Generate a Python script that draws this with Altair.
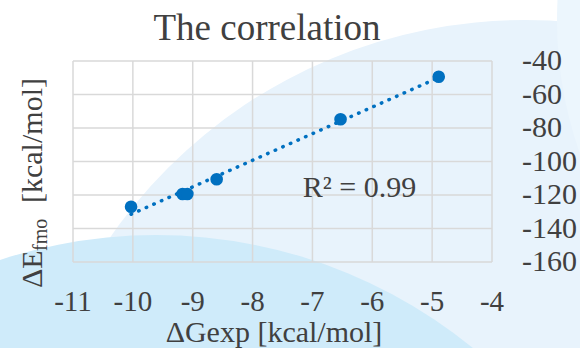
import altair as alt
import pandas as pd

# ---- data ----
x_exp = [-10.03, -9.17, -9.09, -8.60, -6.53, -4.89]
y_fmo = [-127.0, -119.4, -119.4, -110.6, -74.8, -49.4]
x_ticks = [-11, -10, -9, -8, -7, -6, -5, -4]
x_tick_labels = ["-11", "-10", "-9", "-8", "-7", "-6", "-5", "-4"]
y_ticks = [-160, -140, -120, -100, -80, -60, -40]
y_tick_labels = ["-160", "-140", "-120", "-100", "-80", "-60", "-40"]
r2_text = ["R² = 0.99"]
r2_pos_x = [-7.16]
r2_pos_y = [-121.3]

FONT = "'Liberation Serif', 'Times New Roman', serif"
TXT = "#404040"
BLUE = "#0070C0"
GRID = "#d9d9d9"

W, H = 419, 201

df = pd.DataFrame({"x": x_exp, "y": y_fmo})
gx = pd.DataFrame({"x": x_ticks, "t": x_tick_labels})
gy = pd.DataFrame({"y": y_ticks, "t": y_tick_labels})
r2 = pd.DataFrame({"x": r2_pos_x, "y": r2_pos_y, "t": r2_text})

xscale = alt.Scale(domain=[-11, -4], nice=False, zero=False)
yscale = alt.Scale(domain=[-160, -40], nice=False, zero=False)

def X(f="x"):
    return alt.X(f + ":Q", scale=xscale, axis=None)

def Y(f="y"):
    return alt.Y(f + ":Q", scale=yscale, axis=None)

one = alt.Data(values=[{"a": 1}])

def bg_circle(cx, cy, r, color):
    # Vega symbol size is the area of the bounding square
    return alt.Chart(one).mark_circle(
        size=4 * r * r, color=color, opacity=1
    ).encode(x=alt.value(cx - 73), y=alt.value(cy - 61))

bg1 = bg_circle(525, 525, 505, "#e8f3fc")
bg3 = bg_circle(957, 20, 400, "#ecf6fd")
bg2 = bg_circle(156, 736, 501, "#cfebfa")

vgrid = alt.Chart(gx).mark_rule(color=GRID, strokeWidth=1.5).encode(x=X())
hgrid = alt.Chart(gy).mark_rule(color=GRID, strokeWidth=1.5).encode(y=Y())

xlabels = alt.Chart(gx).mark_text(font=FONT, fontSize=29, color=TXT, align="center",
                                  baseline="alphabetic").encode(
    x=X(), y=alt.value(H + 49), text="t:N")
ylabels = alt.Chart(gy).mark_text(font=FONT, fontSize=30, color=TXT, align="left",
                                  baseline="middle").encode(
    x=alt.value(W + 30), y=Y(), text="t:N")

trend = alt.Chart(df).transform_regression("x", "y").mark_line(
    color=BLUE, strokeWidth=3.5, strokeDash=[0.5, 7.8], strokeCap="round"
).encode(x=X(), y=Y())

pts = alt.Chart(df).mark_circle(color=BLUE, size=160, opacity=1).encode(x=X(), y=Y())

r2lab = alt.Chart(r2).mark_text(font=FONT, fontSize=30, color=TXT, align="left",
                                baseline="alphabetic").encode(x=X(), y=Y(), text="t:N")

def text_part(txt, px, py, fs, angle=0, align="left"):
    return alt.Chart(one).mark_text(text=txt, font=FONT, fontSize=fs, color=TXT,
                                    angle=angle, align=align, baseline="alphabetic"
                                    ).encode(x=alt.value(px), y=alt.value(py))

yt1 = text_part("ΔE", -31, 227, 30, 270)
yt2 = text_part("fmo", -26, 190, 20, 270)
yt3 = text_part("[kcal/mol]", -31, 142, 30, 270)
xt = text_part("ΔGexp [kcal/mol]", 201, 281, 30, 0, "center")
title = text_part("The correlation", 194, -21, 37, 0, "center")

chart = alt.layer(bg1, bg3, bg2, vgrid, hgrid, trend, pts, r2lab,
                  xlabels, ylabels, yt1, yt2, yt3, xt, title).properties(
    width=W, height=H,
    autosize=alt.AutoSizeParams(type="none"),
    padding={"left": 73, "top": 61, "right": 88, "bottom": 86},
    background="white",
).configure_view(stroke=None)

chart.save("out.html", embed_options={"renderer": "svg", "actions": False})
